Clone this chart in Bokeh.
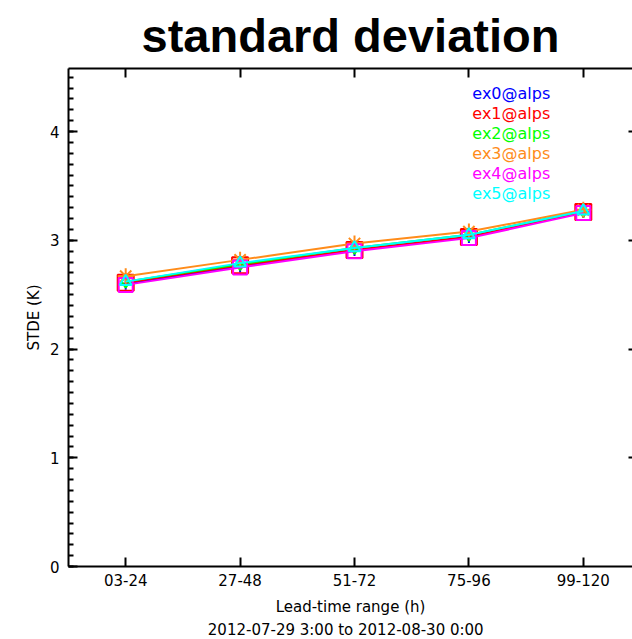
from bokeh.plotting import figure
from bokeh.models import (FixedTicker, SingleIntervalTicker, LinearAxis, Range1d, Title)
from bokeh.core.properties import value
from bokeh.embed import file_html
from bokeh.resources import INLINE

categories = ["03-24", "27-48", "51-72", "75-96", "99-120"]
series_names = ["ex0@alps", "ex1@alps", "ex2@alps", "ex3@alps", "ex4@alps", "ex5@alps"]
ex0 = [2.60, 2.76, 2.91, 3.03, 3.26]
ex1 = [2.61, 2.77, 2.91, 3.03, 3.26]
ex2 = [2.62, 2.78, 2.93, 3.05, 3.27]
ex3 = [2.67, 2.82, 2.97, 3.08, 3.28]
ex4 = [2.59, 2.75, 2.90, 3.02, 3.25]
ex5 = [2.62, 2.79, 2.93, 3.05, 3.27]
series_values = [ex0, ex1, ex2, ex3, ex4, ex5]
colors = ["#0000ff", "#ff0000", "#00ff00", "#ff8c1a", "#ff00ff", "#00ffff"]
markers = ["cross", "square", "diamond", "asterisk", "square", "triangle"]
marker_sizes = [12, 16, 12, 16, 14, 12]

x = list(range(1, len(categories) + 1))

p = figure(width=632, height=639, output_backend="svg", toolbar_location=None,
           x_range=Range1d(0.5, 5.43), y_range=Range1d(0, 4.58),
           min_border_left=68, min_border_right=0, min_border_top=68, min_border_bottom=72)
p.title.text = "standard deviation"
p.title.text_font = "Liberation Sans"
p.title.text_font_size = "47px"
p.title.text_font_style = "bold"
p.title.text_color = "black"
p.title.align = "center"
p.title.standoff = 13
p.outline_line_color = None
p.xgrid.visible = False
p.ygrid.visible = False
p.background_fill_color = "white"

font = "DejaVu Sans"
# bottom axis
xa = p.xaxis[0]
xa.ticker = FixedTicker(ticks=x)
xa.major_label_overrides = {i: c for i, c in zip(x, categories)}
xa.major_tick_in = 9
xa.major_tick_out = 0
xa.minor_tick_line_color = None
xa.axis_line_width = 2
xa.axis_line_color = "black"
xa.major_tick_line_width = 2
xa.major_tick_line_color = "black"
xa.axis_label = "Lead-time range (h)"
xa.axis_label_text_font = font
xa.axis_label_text_font_style = "normal"
xa.axis_label_text_font_size = "15px"
xa.axis_label_text_color = "black"
xa.axis_label_standoff = 9
xa.major_label_text_font = font
xa.major_label_text_font_size = "15px"
xa.major_label_text_color = "black"
xa.major_label_standoff = 7

# left axis
ya = p.yaxis[0]
ya.ticker = SingleIntervalTicker(interval=1, num_minor_ticks=10)
ya.major_tick_in = 9
ya.major_tick_out = 0
ya.minor_tick_in = 5
ya.minor_tick_out = 0
ya.axis_line_width = 2
ya.axis_line_color = "black"
ya.major_tick_line_width = 2
ya.major_tick_line_color = "black"
ya.minor_tick_line_width = 2
ya.minor_tick_line_color = "black"
ya.axis_label = "STDE (K)"
ya.axis_label_text_font = font
ya.axis_label_text_font_style = "normal"
ya.axis_label_text_font_size = "15px"
ya.axis_label_text_color = "black"
ya.axis_label_standoff = 4
ya.major_label_text_font = font
ya.major_label_text_font_size = "15px"
ya.major_label_text_color = "black"
ya.major_label_standoff = 9

# top axis (ticks only)
ta = LinearAxis(ticker=FixedTicker(ticks=x), major_label_text_color=None,
                major_label_text_font_size="1px",
                major_tick_in=9, major_tick_out=0, minor_tick_line_color=None,
                axis_line_width=2, axis_line_color="black", major_tick_line_width=2,
                major_tick_line_color="black", major_label_standoff=0)
p.add_layout(ta, "above")

# right axis (ticks only)
ra = LinearAxis(ticker=FixedTicker(ticks=[1, 2, 3, 4]), major_label_text_color=None,
                major_label_text_font_size="1px",
                major_tick_in=4, major_tick_out=0, minor_tick_line_color=None,
                axis_line_color=None, major_tick_line_width=2,
                major_tick_line_color="black", major_label_standoff=0)
p.add_layout(ra, "right")

# date subtitle
sub = Title(text="2012-07-29  3:00 to 2012-08-30  0:00", align="center", text_color="black",
            text_font=font, text_font_size="15px", text_font_style="normal", standoff=1)
p.add_layout(sub, "below")

for name, vals, col, mk, ms in zip(series_names, series_values, colors, markers, marker_sizes):
    p.line(x, vals, line_color=col, line_width=2)
    p.scatter(x, vals, marker=mk, size=ms, line_color=col, fill_color=None, line_width=2)

# legend text
for i, (name, col) in enumerate(zip(series_names, colors)):
    p.text(x=[4.03], y=[4.35 - i * 0.183], text=[name], text_color=col,
           text_font=value(font), text_font_size="16px", text_baseline="middle",
           text_align="left")

open("out.html", "w").write(file_html(p, INLINE))
